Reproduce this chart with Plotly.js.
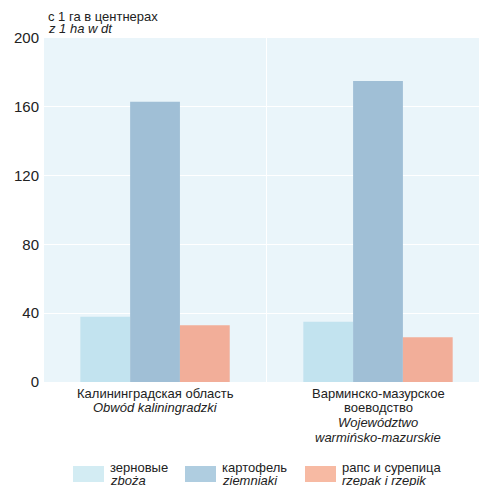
<!DOCTYPE html>
<html><head><meta charset="utf-8">
<script src="https://cdn.plot.ly/plotly-3.0.1.min.js"></script>
<style>body{margin:0;padding:0;background:#fff}#chart{width:479px;height:486px}</style>
</head><body><div id="chart"></div>
<script>
const categoriesRu = ["Калининградская область", "Варминско-мазурское\nвоеводство"];
const categoriesPl = ["Obwód kaliningradzki", "Województwo\nwarmińsko-mazurskie"];
const seriesRu = ["зерновые", "картофель", "рапс и сурепица"];
const seriesPl = ["zboża", "ziemniaki", "rzepak i rzepik"];
const unitRu = "с 1 га в центнерах";
const unitPl = "z 1 ha w dt";
const grain = [38, 35];
const potatoes = [163, 175];
const rapeseed = [33, 26];
const yTicks = [0, 40, 80, 120, 160, 200];
const colors = ["#C2E3EF", "#A0BFD6", "#F2AE99"];
const legendColors = ["#D3ECF3", "#AFCDE0", "#F7BAA3"];

const FONT = "Liberation Sans, Arial, sans-serif";
const TXT = "#222222";
const PLOT_BOTTOM = 382, PLOT_H = 344, PLOT_L = 44, PLOT_W = 435;
const py = p => (PLOT_BOTTOM - p) / PLOT_H;
const px = p => (p - PLOT_L) / PLOT_W;

const xs = categoriesRu.map((c, i) => i);
const values = [grain, potatoes, rapeseed];
const traces = values.map((v, k) => ({
  type: "bar", x: xs, y: v, name: seriesRu[k] + " / " + seriesPl[k],
  marker: {color: colors[k], line: {width: 0}}, showlegend: false, hoverinfo: "none"
}));

const shapes = [{type: "line", xref: "x", yref: "paper", x0: 0.5, x1: 0.5, y0: 0, y1: 1,
  line: {color: "#ffffff", width: 1}, layer: "below"}];
const annotations = [];
function addText(xref, x, xanchor, yPix, text, italic, size) {
  annotations.push({xref: xref, yref: "paper", x: x, y: py(yPix), xanchor: xanchor, yanchor: "middle",
    showarrow: false, align: xanchor === "left" ? "left" : "center",
    text: italic ? "<i>" + text + "</i>" : text,
    font: {family: FONT, size: size || 13, color: TXT}});
}
// unit title
addText("paper", px(46), "left", 16, unitRu, false, 13);
addText("paper", px(46), "left", 29, unitPl, true, 13);
// category labels
const LINE = 14.7, FIRST = 393;
xs.forEach(i => {
  const lines = categoriesRu[i].split("\n").map(t => [t, false])
    .concat(categoriesPl[i].split("\n").map(t => [t, true]));
  lines.forEach((l, j) => addText("x", i, "center", FIRST + j * LINE, l[0], l[1], 13));
});
// legend
const legX = [73, 185, 305];
legX.forEach((p, k) => {
  shapes.push({type: "rect", xref: "paper", yref: "paper", x0: px(p), x1: px(p + 31),
    y0: py(482), y1: py(466), fillcolor: legendColors[k], line: {width: 0}});
  addText("paper", px(p + 35), "left", 467, seriesRu[k], false, 13);
  addText("paper", px(p + 35), "left", 480, seriesPl[k], true, 13);
});

const layout = {
  width: 479, height: 486,
  margin: {l: PLOT_L, r: 0, t: 38, b: 104, pad: 0},
  paper_bgcolor: "#ffffff", plot_bgcolor: "#EAF5FA",
  barmode: "group", bargap: 0.33, bargroupgap: 0,
  font: {family: FONT, size: 13, color: TXT},
  xaxis: {range: [-0.498, 1.453], tickvals: xs, showticklabels: false, showgrid: false, zeroline: false,
    ticks: "", showline: false},
  yaxis: {range: [0, 200], tickvals: yTicks, showgrid: true, gridcolor: "#ffffff", gridwidth: 1, zeroline: false,
    ticks: "", showline: false, ticklabelstandoff: 4, tickfont: {family: FONT, size: 15, color: TXT}},
  shapes: shapes, annotations: annotations, showlegend: false
};
Plotly.newPlot("chart", traces, layout, {displayModeBar: false, staticPlot: true});
</script></body></html>
